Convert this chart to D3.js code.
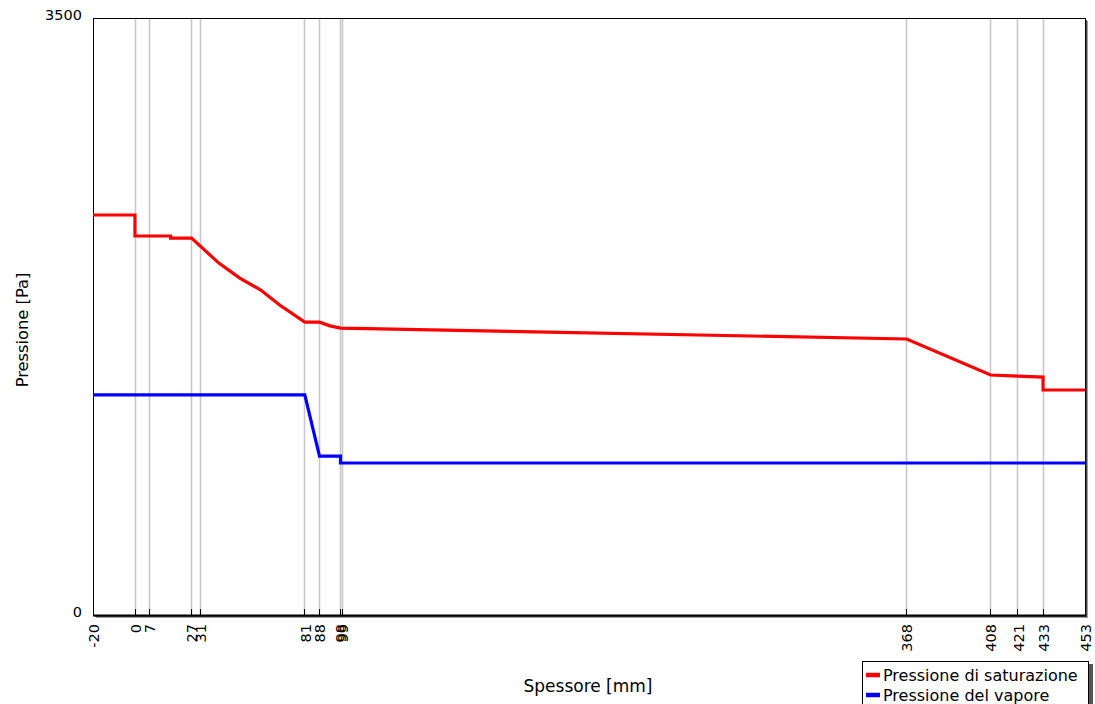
<!DOCTYPE html>
<html>
<head>
<meta charset="utf-8">
<script src="https://cdn.jsdelivr.net/npm/d3@7"></script>
<style>
  html, body { margin: 0; padding: 0; background: #fff; }
  svg { display: block; }
  text { font-family: "DejaVu Sans", Verdana, sans-serif; fill: #000; }
</style>
</head>
<body>
<svg id="chart" width="1095" height="704"></svg>
<script>
// ---- data ----
const xTicks = [-20, 0, 7, 27, 31, 81, 88, 98, 99, 368, 408, 421, 433, 453];
const yTicks = [0, 3500];

const satX = [-20, 0, 0, 17, 17, 27, 40, 50, 60, 69, 81, 88, 93, 98, 368, 408, 421, 433, 433, 453];
const satY = [2345, 2345, 2222, 2222, 2210, 2210, 2063, 1975, 1905, 1817, 1717, 1717, 1695, 1682, 1618, 1407, 1401, 1395, 1319, 1319];

const vapX = [-20, 81, 88, 98, 98, 453];
const vapY = [1290, 1290, 932, 932, 891, 891];

const seriesNames = ["Pressione di saturazione", "Pressione del vapore"];
const seriesColors = ["#ff0000", "#0000ff"];

const xLabel = "Spessore [mm]";
const yLabel = "Pressione [Pa]";

// ---- layout ----
const svg = d3.select("#chart");
const L = 93, R = 1085, T = 18, B = 615;

const x = d3.scaleLinear().domain([-20, 453]).range([L, R]);
const y = d3.scaleLinear().domain([0, 3500]).range([B, T]);
const px = d => Math.round(x(d) - 0.4) + 0.5;

// shadow of plot frame
svg.append("rect").attr("x", L + 3).attr("y", T + 3).attr("width", R - L).attr("height", B - T)
  .attr("fill", "#a0a0a0");
svg.append("rect").attr("x", L + 2).attr("y", T + 2).attr("width", R - L).attr("height", B - T)
  .attr("fill", "#444");
svg.append("rect").attr("x", L + 0.5).attr("y", T + 0.5).attr("width", R - L).attr("height", B - T)
  .attr("fill", "#fff").attr("stroke", "#000").attr("stroke-width", 1);

// vertical grid lines
svg.append("g").selectAll("line").data(xTicks.filter(d => d > -20 && d < 453)).join("line")
  .attr("x1", px).attr("x2", px)
  .attr("y1", T + 1).attr("y2", B)
  .attr("stroke", "#c8c8c8").attr("stroke-width", 1.6);

// x axis
const xAxis = d3.axisBottom(x).tickValues(xTicks).tickSize(0).tickFormat(d => String(d));
const gx = svg.append("g").attr("transform", `translate(0,${B})`).call(xAxis);
gx.select(".domain").remove();
gx.selectAll("text")
  .style("font-size", "14.5px")
  .style("font-family", "\"DejaVu Sans\", sans-serif")
  .attr("transform", "rotate(-90)")
  .attr("text-anchor", "end")
  .attr("x", -9).attr("y", 0).attr("dy", "0.36em");

// small tick marks above the axis
svg.append("g").selectAll("line").data(xTicks).join("line")
  .attr("x1", px).attr("x2", px)
  .attr("y1", B - 6).attr("y2", B)
  .attr("stroke", "#000").attr("stroke-width", 1);

// thick bottom axis line
svg.append("line").attr("x1", L).attr("x2", R + 1).attr("y1", B + 0.5).attr("y2", B + 0.5)
  .attr("stroke", "#000").attr("stroke-width", 2);

// y axis labels
const yAxis = d3.axisLeft(y).tickValues(yTicks).tickSize(0).tickFormat(d => String(d));
const gy = svg.append("g").attr("transform", `translate(${L},0)`).call(yAxis);
gy.select(".domain").remove();
gy.selectAll("text")
  .style("font-size", "14.5px")
  .style("font-family", "\"DejaVu Sans\", sans-serif")
  .attr("x", -11).attr("dy", "0.1em");

// lines
const line = d3.line().x(d => x(d[0])).y(d => y(d[1]));
const satData = satX.map((v, i) => [v, satY[i]]);
const vapData = vapX.map((v, i) => [v, vapY[i]]);
[satData, vapData].forEach((data, i) => {
  svg.append("path").datum(data).attr("d", line)
    .attr("fill", "none").attr("stroke", seriesColors[i]).attr("stroke-width", 3.2)
    .attr("stroke-linejoin", "miter");
});

// axis titles
svg.append("text").attr("x", 588).attr("y", 692).attr("text-anchor", "middle")
  .style("font-size", "17px").text(xLabel);
svg.append("text").attr("transform", "translate(28,330) rotate(-90)").attr("text-anchor", "middle")
  .style("font-size", "16.3px").text(yLabel);

// legend
const lg = svg.append("g");
lg.append("rect").attr("x", 865).attr("y", 664).attr("width", 228).attr("height", 50).attr("fill", "#555");
lg.append("rect").attr("x", 862.5).attr("y", 661.5).attr("width", 226).attr("height", 50)
  .attr("fill", "#fff").attr("stroke", "#000").attr("stroke-width", 1);
seriesNames.forEach((name, i) => {
  const yy = 675 + i * 20;
  lg.append("line").attr("x1", 866).attr("x2", 880).attr("y1", yy).attr("y2", yy)
    .attr("stroke", seriesColors[i]).attr("stroke-width", 4.5);
  lg.append("text").attr("x", 883).attr("y", yy).attr("dy", "0.36em")
    .style("font-size", "16px").text(name);
});
</script>
</body>
</html>
